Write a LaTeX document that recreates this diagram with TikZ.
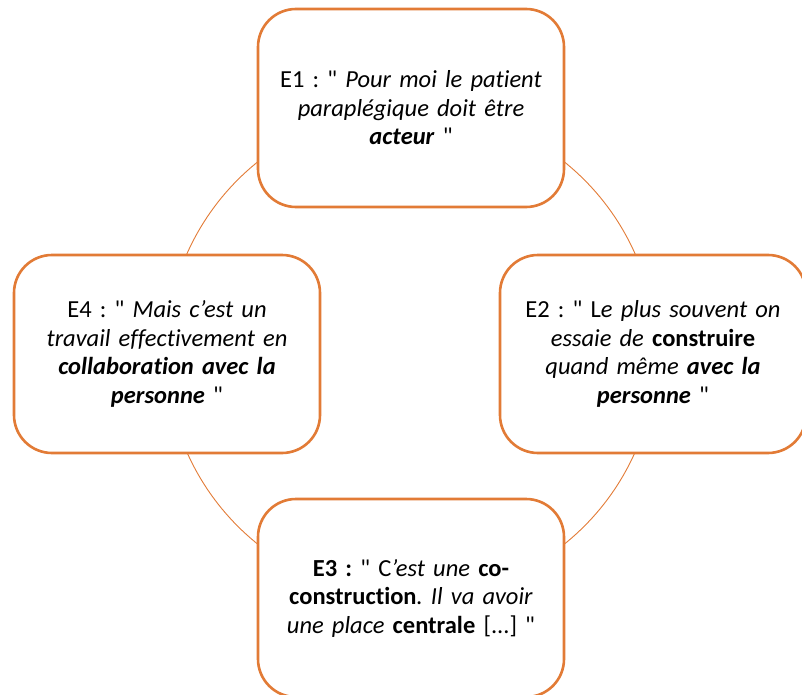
\documentclass[tikz,border=0pt]{standalone}
\usepackage{fontspec}
\setmainfont{Carlito}[Ligatures={NoCommon,TeXOff}]
\definecolor{acc}{HTML}{E27B36}
\newcommand{\qq}{\symbol{"22}}
\frenchspacing
\tikzset{
  quotebox/.style={draw=acc, line width=2.6pt, fill=white, rounded corners=38pt,
    minimum width=306pt, minimum height=198pt, align=center, text width=296pt,
    inner sep=0pt, font=\frenchspacing\fontsize{24.5}{28.5}\selectfont},
  ring/.style={draw=acc, line width=0.9pt}
}
\begin{document}
\begin{tikzpicture}[x=1pt,y=-1pt]
\useasboundingbox (0,0) rectangle (802,695);
\coordinate (c) at (411,353);
\draw[ring] (c) circle (245pt);
\node[quotebox] (e1) at (411,108) {E1 : \qq{} \textit{Pour moi le patient}\\
  \textit{paraplégique doit être}\\
  \textbf{\textit{acteur}} \qq};
\node[quotebox] (e2) at (653,354) {E2 : \qq{} L\textit{e plus souvent on}\\
  \textit{essaie de} \textbf{construire}\\
  \textit{quand même} \textbf{\textit{avec la}}\\
  \textbf{\textit{personne}} \qq};
\node[quotebox] (e3) at (411,598) {\textbf{E3 :} \qq{} C\textit{’est une} \textbf{co-}\\
  \textbf{construction}\textit{. Il va avoir}\\
  \textit{une place} \textbf{centrale} [...] \qq};
\node[quotebox] (e4) at (167,354) {E4 : \qq{} \textit{Mais c’est un}\\
  \textit{travail effectivement en}\\
  \textbf{\textit{collaboration avec la}}\\
  \textbf{\textit{personne}} \qq};
\end{tikzpicture}
\end{document}
